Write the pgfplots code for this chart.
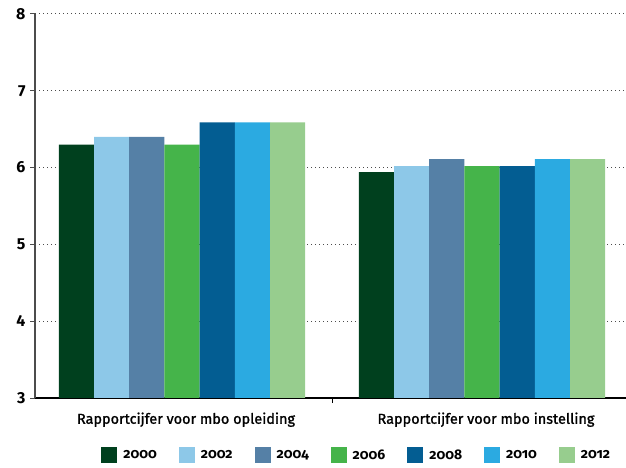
\documentclass[border=0pt]{standalone}
\usepackage{fontspec}
\setmainfont{Fira Sans}
\newfontfamily\legfont[Numbers=OldStyle]{Fira Sans}
\newfontfamily\medfont[FakeBold=1.2]{Fira Sans}
\usepackage{pgfplots}
\pgfplotsset{compat=1.18}
\definecolor{c2000}{HTML}{00401E}
\definecolor{c2002}{HTML}{8DC8E8}
\definecolor{c2004}{HTML}{5580A6}
\definecolor{c2006}{HTML}{45B44A}
\definecolor{c2008}{HTML}{035D92}
\definecolor{c2010}{HTML}{2BAAE1}
\definecolor{c2012}{HTML}{97CD8E}
\begin{document}
\begin{tikzpicture}
\useasboundingbox (0,0) rectangle (626bp,468bp);
\begin{axis}[
    at={(35bp,70bp)}, anchor=south west,
    scale only axis, width=591bp, height=384bp,
    xmin=-0.49, xmax=1.48, ymin=3, ymax=8,
    ybar=0pt, bar width=35.2bp,
    axis lines*=left,
    x axis line style={black, line width=1.3bp},
    y axis line style={black!70, line width=1.2bp},
    tick align=outside, major tick length=5bp,
    xtick={0,1},
    xticklabels={Rapportcijfer voor mbo opleiding, Rapportcijfer voor mbo instelling},
    xtick style={draw=none},
    extra x ticks={0.5}, extra x tick labels={},
    extra x tick style={xtick style={draw=black, line width=1bp}},
    xticklabel style={font=\medfont\fontsize{14.5}{15}\selectfont, yshift=-6bp, xshift=4bp},
    ytick={3,4,5,6,7,8},
    ytick style={draw=black!70, line width=1bp},
    yticklabel style={font=\fontseries{b}\fontsize{16}{16}\selectfont, xshift=-1bp},
    /pgf/number format/assume math mode=true,
    ymajorgrids,
    grid style={black!70, line width=1bp, dash pattern=on 1.2bp off 2.8bp},
    legend columns=7,
    legend style={at={(0.5445,0)}, anchor=center, yshift=-57bp, draw=none,
        font=\legfont\fontseries{b}\fontsize{14}{14}\selectfont,
        /tikz/every odd column/.append style={column sep=4bp},
        /tikz/every even column/.append style={column sep=20bp}},
    legend image code/.code={\fill[#1] (0bp,-8bp) rectangle (16bp,8bp);},
]
\addplot[fill=c2000, draw=none] coordinates {(0,6.3) (1,5.94)};
\addplot[fill=c2002, draw=none] coordinates {(0,6.4) (1,6.02)};
\addplot[fill=c2004, draw=none] coordinates {(0,6.4) (1,6.11)};
\addplot[fill=c2006, draw=none] coordinates {(0,6.3) (1,6.02)};
\addplot[fill=c2008, draw=none] coordinates {(0,6.59) (1,6.02)};
\addplot[fill=c2010, draw=none] coordinates {(0,6.59) (1,6.11)};
\addplot[fill=c2012, draw=none] coordinates {(0,6.59) (1,6.11)};
\legend{2000,2002,2004,2006,2008,2010,2012}
\end{axis}
\end{tikzpicture}
\end{document}
